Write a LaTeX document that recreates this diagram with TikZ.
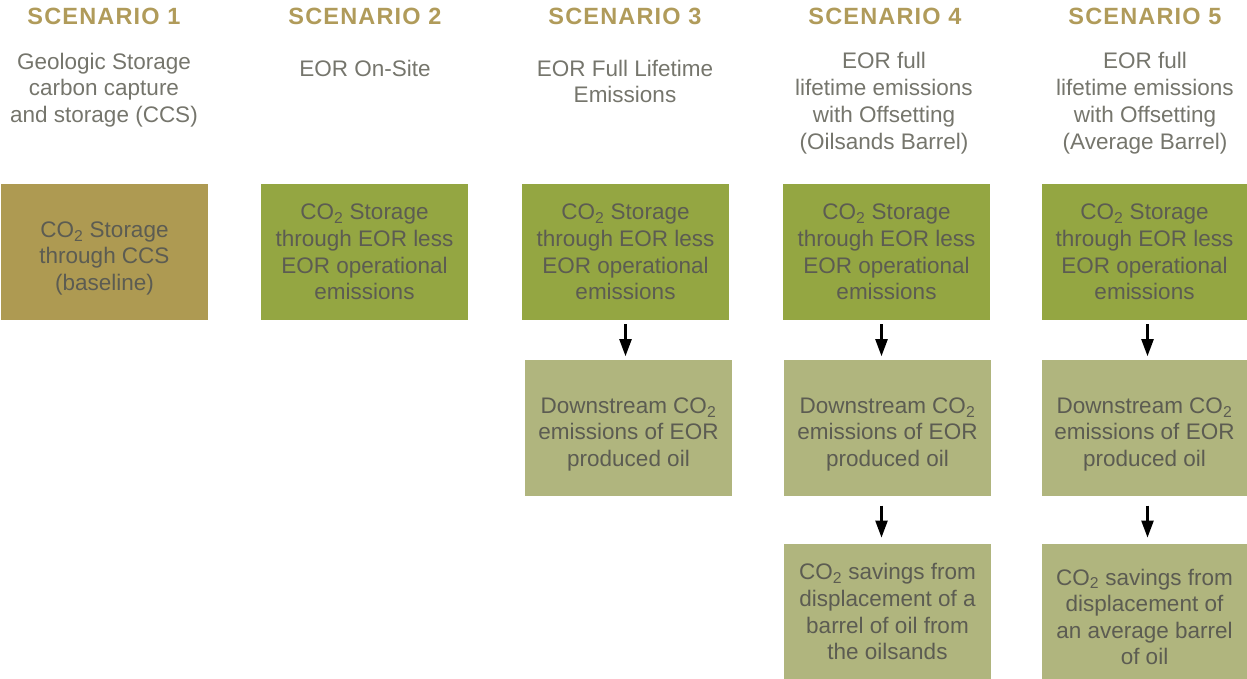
\documentclass[tikz,border=0pt]{standalone}
\usepackage{fontspec}
\setmainfont{Liberation Sans}
\usetikzlibrary{positioning,arrows.meta}

\definecolor{gold}{RGB}{176,155,90}
\definecolor{ccs}{RGB}{174,154,82}
\definecolor{eor}{RGB}{148,166,66}
\definecolor{down}{RGB}{176,181,126}
\definecolor{txt}{RGB}{92,92,82}

\newcommand\lift[1]{\rule{0pt}{#1}}

\tikzset{
  head/.style={text=gold, font=\fontsize{23.5}{28}\selectfont\bfseries\addfontfeature{LetterSpace=5}},
  sub/.style={text=txt!85, align=center, font=\fontsize{22.5}{26.8}\selectfont},
  box/.style={minimum width=207pt, minimum height=136pt, inner sep=0pt, align=center,
    text=txt, font=\fontsize{22.5}{26.6}\selectfont},
  flow/.style={-{Triangle[width=12pt,length=17pt]}, line width=2.3pt}
}

\begin{document}
\begin{tikzpicture}[x=1pt,y=-1pt]
\useasboundingbox (0,0) rectangle (1247,679);

\node[head] (h1) at (104,16) {SCENARIO 1};
\node[head] (h2) at (365,16) {SCENARIO 2};
\node[head] (h3) at (625,16) {SCENARIO 3};
\node[head] (h4) at (885,16) {SCENARIO 4};
\node[head] (h5) at (1145,16) {SCENARIO 5};

\node[sub] (s1) at (104,90) {Geologic Storage\\carbon capture\\and storage (CCS)};
\node[sub] (s2) at (365,68) {EOR On-Site};
\node[sub] (s3) at (625,81.5) {EOR Full Lifetime\\Emissions};
\node[sub] (s4) at (884,103) {EOR full\\lifetime emissions\\with Offsetting\\(Oilsands Barrel)};
\node[sub] (s5) at (1145,103) {EOR full\\lifetime emissions\\with Offsetting\\(Average Barrel)};

\node[box, fill=ccs] (a1) at (104.5,252) {\lift{28.5pt}CO\textsubscript{2} Storage\\through CCS\\(baseline)};
\node[box, fill=eor] (a2) at (364.5,252) {CO\textsubscript{2} Storage\\through EOR less\\EOR operational\\emissions};
\node[box, fill=eor] (a3) at (625.5,252) {CO\textsubscript{2} Storage\\through EOR less\\EOR operational\\emissions};
\node[box, fill=eor] (a4) at (886.5,252) {CO\textsubscript{2} Storage\\through EOR less\\EOR operational\\emissions};
\node[box, fill=eor, minimum width=205pt] (a5) at (1144.5,252) {CO\textsubscript{2} Storage\\through EOR less\\EOR operational\\emissions};

\node[box, fill=down, below=40pt of a3, xshift=3pt] (b3) {\lift{27.5pt}Downstream CO\textsubscript{2}\\emissions of EOR\\produced oil};
\node[box, fill=down, below=40pt of a4, xshift=1pt] (b4) {\lift{27.5pt}Downstream CO\textsubscript{2}\\emissions of EOR\\produced oil};
\node[box, fill=down, minimum width=205pt, below=40pt of a5] (b5) {\lift{27.5pt}Downstream CO\textsubscript{2}\\emissions of EOR\\produced oil};

\node[box, fill=down, below=47pt of b4] (c4) {CO\textsubscript{2} savings from\\displacement of a\\barrel of oil from\\the oilsands};
\node[box, fill=down, minimum width=205pt, below=47pt of b5] (c5) {\lift{26.5pt}CO\textsubscript{2} savings from\\displacement of\\an average barrel\\of oil};

\draw[flow, shorten <=4pt, shorten >=4pt] (a3.south) -- (a3.south |- b3.north);
\draw[flow, shorten <=4pt, shorten >=4pt] ([xshift=-5pt]a4.south) -- ([xshift=-5pt]a4.south |- b4.north);
\draw[flow, shorten <=4pt, shorten >=4pt] ([xshift=3pt]a5.south) -- ([xshift=3pt]a5.south |- b5.north);
\draw[flow, shorten <=9pt, shorten >=6pt] ([xshift=-6pt]b4.south) -- ([xshift=-6pt]b4.south |- c4.north);
\draw[flow, shorten <=9pt, shorten >=6pt] ([xshift=3pt]b5.south) -- ([xshift=3pt]b5.south |- c5.north);
\end{tikzpicture}
\end{document}
